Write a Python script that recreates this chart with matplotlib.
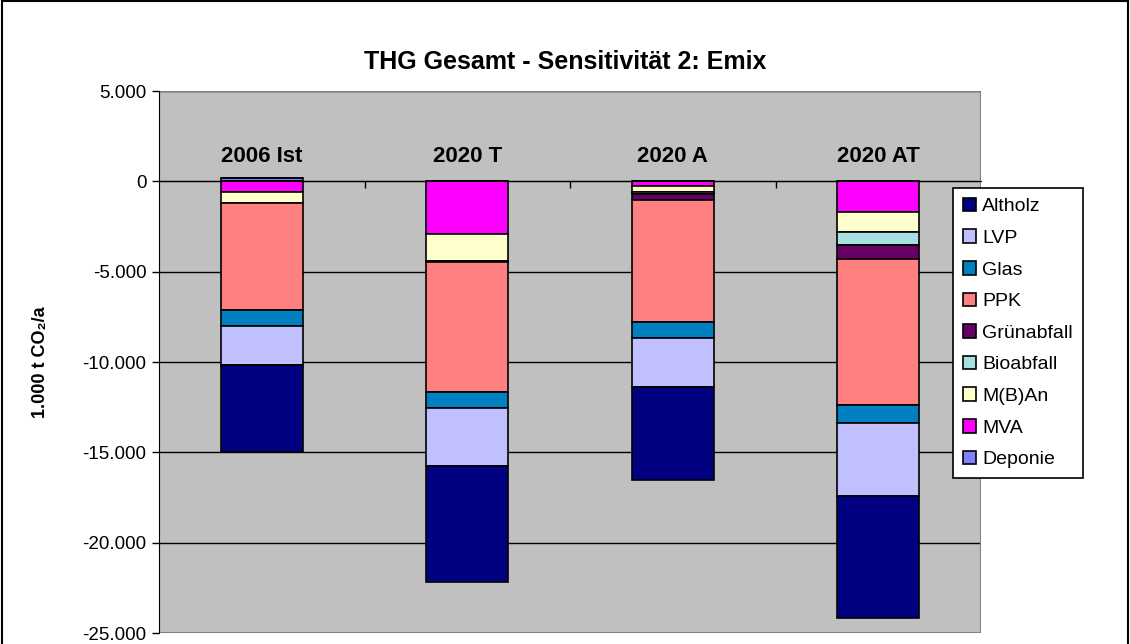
import matplotlib
matplotlib.use("Agg")
import matplotlib.pyplot as plt
import numpy as np
from matplotlib.patches import Rectangle
from matplotlib.lines import Line2D
from matplotlib.ticker import FuncFormatter, FixedLocator

plt.rcParams['font.family'] = ['Liberation Sans', 'DejaVu Sans']

categories = ["2006 Ist", "2020 T", "2020 A", "2020 AT"]

# series in stacking order, starting next to the zero line (1.000 t CO2/a)
deponie = [210, 0, 0, 0]
mva = [-610, -2890, -255, -1715]
mban = [-590, -1510, -330, -1085]
bioabfall = [0, -90, -130, -740]
gruenabfall = [0, 0, -295, -735]
ppk = [-5945, -7180, -6790, -8120]
glas = [-885, -900, -885, -960]
lvp = [-2120, -3195, -2675, -4080]
altholz = [-4855, -6420, -5145, -6750]

series = [
    ("Deponie", deponie, "#8080FF"),
    ("MVA", mva, "#FF00FF"),
    ("M(B)An", mban, "#FFFFCC"),
    ("Bioabfall", bioabfall, "#A6E0E0"),
    ("Grünabfall", gruenabfall, "#660066"),
    ("PPK", ppk, "#FF8080"),
    ("Glas", glas, "#0080C0"),
    ("LVP", lvp, "#C0C0FF"),
    ("Altholz", altholz, "#000080"),
]

fig = plt.figure(figsize=(11.3, 6.44), dpi=100)
ax = fig.add_axes([159 / 1130, 1 - 633 / 644, 822 / 1130, 542 / 644])
ax.set_facecolor("#C0C0C0")

x = np.arange(len(categories))
pos_base = np.zeros(len(categories))
neg_base = np.zeros(len(categories))
handles = {}
for name, vals, col in series:
    vals = np.array(vals, dtype=float)
    base = np.where(vals >= 0, pos_base, neg_base)
    b = ax.bar(x, vals, 0.4, bottom=base, color=col, edgecolor="black",
               linewidth=1.2, zorder=3)
    handles[name] = b
    pos_base += np.clip(vals, 0, None)
    neg_base += np.clip(vals, None, 0)

ax.set_xlim(-0.5, 3.5)
ax.set_ylim(-25000, 5000)
ax.set_yticks(np.arange(-25000, 5001, 5000))
ax.yaxis.set_major_formatter(FuncFormatter(lambda v, p: f"{int(v):,}".replace(",", ".")))
ax.tick_params(axis="y", labelsize=13.5, length=5, width=1, direction="out", pad=4)
ax.yaxis.grid(True, color="black", linewidth=1)
ax.set_axisbelow(True)

# x axis crosses at zero, ticks between categories
ax.spines["bottom"].set_position(("data", 0))
ax.spines["bottom"].set_color("black")
ax.spines["bottom"].set_zorder(4)
ax.xaxis.set_major_locator(FixedLocator([0.5, 1.5, 2.5]))
ax.tick_params(axis="x", length=5, width=1, direction="out", labelbottom=False)
for s in ["top", "right"]:
    ax.spines[s].set_visible(False)
ax.spines["left"].set_color("black")
ax.add_patch(Rectangle((0, 0), 1, 1, transform=ax.transAxes, fill=False,
                       edgecolor="#808080", linewidth=1.5, zorder=1))

for i, cat in enumerate(categories):
    ax.text(i, 1400, cat, ha="center", va="center", fontsize=16, fontweight="bold")

ax.set_ylabel("1.000 t CO₂/a", fontsize=13, fontweight="bold", labelpad=24)

fig.text(0.5, 1 - 62 / 644, "THG Gesamt - Sensitivität 2: Emix", ha="center",
         va="center", fontsize=18, fontweight="bold")

order = ["Altholz", "LVP", "Glas", "PPK", "Grünabfall", "Bioabfall", "M(B)An", "MVA", "Deponie"]
leg = fig.legend([handles[n] for n in order], order, loc="upper left",
                 bbox_to_anchor=(953 / 1130, 1 - 188 / 644), fontsize=14,
                 frameon=True, fancybox=False, framealpha=1, edgecolor="black",
                 handlelength=0.7, handleheight=0.7, handletextpad=0.3,
                 labelspacing=0.72, borderpad=0.5, borderaxespad=0)
leg.get_frame().set_linewidth(1.2)

# chart border
for xs, ys in [([0.002, 0.002], [0, 0.998]), ([0.002, 0.998], [0.998, 0.998]),
               ([0.998, 0.998], [0.998, 0])]:
    fig.add_artist(Line2D(xs, ys, transform=fig.transFigure, color="black", linewidth=1.5))

fig.savefig("out.png", dpi=100)
